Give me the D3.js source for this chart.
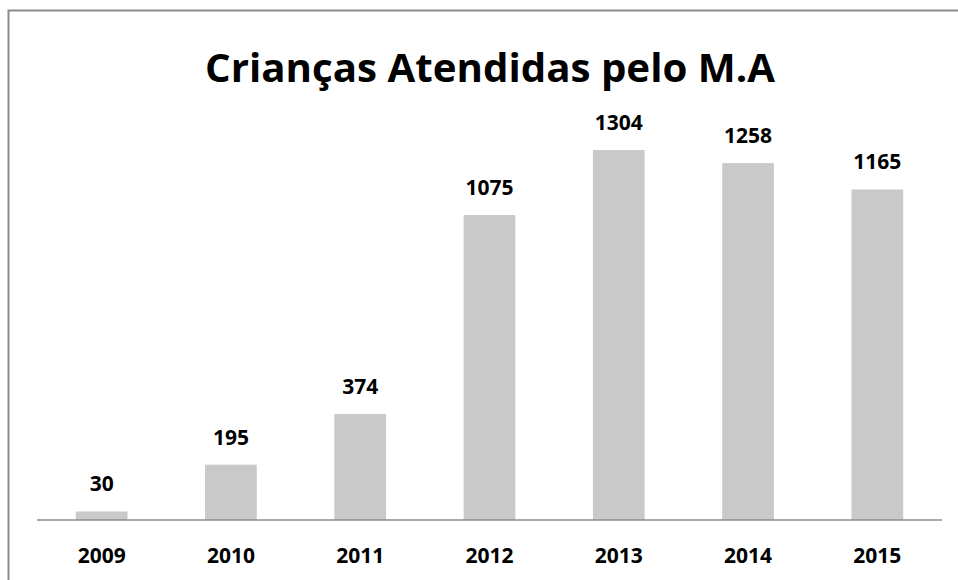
<!DOCTYPE html>
<html>
<head>
<meta charset="utf-8">
<script src="https://cdn.jsdelivr.net/npm/d3@7"></script>
<style>
  body { margin: 0; background: #fff; }
  text { font-family: "Open Sans", sans-serif; font-weight: bold; fill: #000; }
</style>
</head>
<body>
<div id="chart"></div>
<script>
// Data
const years = ["2009", "2010", "2011", "2012", "2013", "2014", "2015"];
const children = [30, 195, 374, 1075, 1304, 1258, 1165];
const chartTitle = "Crianças Atendidas pelo M.A";

const width = 958;
const height = 580;
const margin = { top: 122, right: 16, bottom: 60, left: 37 };

const svg = d3.select("#chart")
  .append("svg")
  .attr("width", width)
  .attr("height", height);

// chart frame (cropped on right and bottom)
svg.append("path")
  .attr("d", `M8.5,${height} V10.5 H${width}`)
  .attr("fill", "none")
  .attr("stroke", "#8c8c8c")
  .attr("stroke-width", 2);

const xScale = d3.scaleBand()
  .domain(years)
  .range([margin.left, width - margin.right])
  .paddingInner(0.6)
  .paddingOuter(0.3);

const yScale = d3.scaleLinear()
  .domain([0, 1400])
  .range([height - margin.bottom, height - margin.bottom - 1400 * 0.2837]);

svg.append("text")
  .attr("x", 490)
  .attr("y", 82)
  .attr("text-anchor", "middle")
  .style("font-size", "40px")
  .attr("textLength", 570)
  .attr("lengthAdjust", "spacingAndGlyphs")
  .text(chartTitle);

// bars
svg.selectAll("rect.bar")
  .data(children)
  .enter()
  .append("rect")
  .attr("class", "bar")
  .attr("x", (d, i) => xScale(years[i]))
  .attr("y", d => yScale(d))
  .attr("width", xScale.bandwidth())
  .attr("height", d => yScale(0) - yScale(d))
  .attr("fill", "#c9c9c9");

// value labels
svg.selectAll("text.value")
  .data(children)
  .enter()
  .append("text")
  .attr("class", "value")
  .attr("x", (d, i) => xScale(years[i]) + xScale.bandwidth() / 2)
  .attr("y", d => yScale(d) - 20)
  .attr("text-anchor", "middle")
  .style("font-size", "21px")
  .text(d => d);

// x axis
const xAxis = d3.axisBottom(xScale).tickSize(0);
const gx = svg.append("g")
  .attr("transform", `translate(0,${yScale(0)})`)
  .call(xAxis);
gx.select(".domain").attr("stroke", "#8c8c8c").attr("stroke-width", 1.5)
  .attr("d", `M${margin.left},0H${width - margin.right}`);
gx.selectAll("text")
  .attr("y", 43)
  .attr("dy", null)
  .style("font-size", "21px")
  .attr("fill", "#000");
</script>
</body>
</html>
